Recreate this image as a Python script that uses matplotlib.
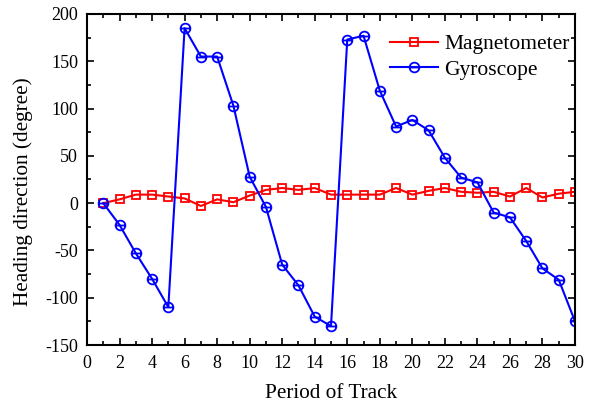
import matplotlib
matplotlib.use("Agg")
import matplotlib.pyplot as plt
from matplotlib.ticker import MultipleLocator
from matplotlib.path import Path

periods = list(range(1, 31))
magnetometer = [0, 4, 9, 9, 7, 5, -3, 4, 1, 8, 14, 16, 14, 16, 9,
                9, 9, 9, 16, 9, 13, 16, 12, 11, 12, 7, 16, 6, 10, 12]
gyroscope = [0, -23, -53, -80, -110, 185, 155, 155, 103, 28, -4, -65, -87, -120, -130,
             173, 177, 119, 81, 88, 77, 48, 27, 22, -10, -15, -40, -69, -81, -125]

plt.rcParams['font.family'] = ['Liberation Serif', 'DejaVu Serif']
plt.rcParams['axes.unicode_minus'] = False

circ_line = Path.make_compound_path(Path.unit_circle(),
                                    Path([[-1, 0], [1, 0]], [Path.MOVETO, Path.LINETO]))

fig = plt.figure(figsize=(5.94, 4.09), dpi=100)
ax = fig.add_axes([87/594, 1 - 345/409, (575-87)/594, (345-14)/409])

ax.plot(periods, magnetometer, color='#ff0000', marker='s', markersize=6,
        markerfacecolor='none', markeredgecolor='#ff0000', markeredgewidth=1.3,
        linewidth=1.5, label='Magnetometer')
ax.plot(periods, gyroscope, color='#0000ff', marker=circ_line, markersize=7,
        markerfacecolor='none', markeredgecolor='#0000ff', markeredgewidth=1.3,
        linewidth=1.5, label='Gyroscope')

ax.set_xlim(0, 30)
ax.set_ylim(-150, 200)
ax.xaxis.set_major_locator(MultipleLocator(2))
ax.xaxis.set_minor_locator(MultipleLocator(1))
ax.yaxis.set_major_locator(MultipleLocator(50))
ax.yaxis.set_minor_locator(MultipleLocator(25))
ax.tick_params(which='both', direction='in', top=True, right=True, labelsize=13, width=1.2)
ax.tick_params(which='major', length=5)
ax.tick_params(which='minor', length=3)
ax.tick_params(axis='x', which='major', pad=7.5)
ax.tick_params(axis='y', which='major', pad=6.5)
for s in ax.spines.values():
    s.set_linewidth(1.5)

ax.set_xlabel('Period of Track', fontsize=15.3)
ax.set_ylabel('Heading direction (degree)', fontsize=15.3)
ax.xaxis.set_label_coords(0.5, -0.118)
ax.yaxis.set_label_coords(-0.111, 0.462)

leg = ax.legend(loc='upper right', fontsize=15.5, frameon=False, handlelength=2.2,
                borderaxespad=0.3, labelspacing=0.25, handletextpad=0.3,
                bbox_to_anchor=(1.02, 0.985))

fig.savefig('out.png', dpi=100)
